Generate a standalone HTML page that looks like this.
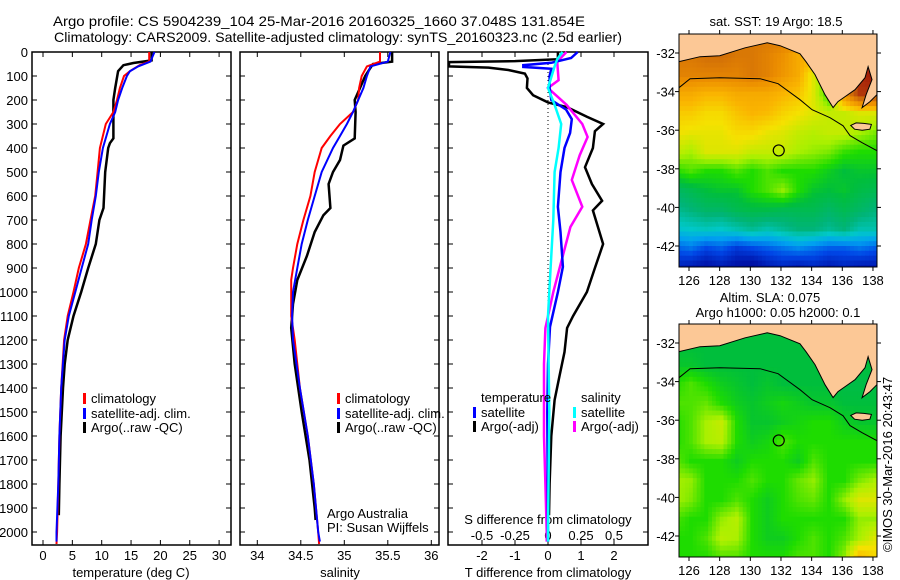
<!DOCTYPE html>
<html><head><meta charset="utf-8"><style>
html,body{margin:0;padding:0;background:#fff;}
svg{display:block;font-family:"Liberation Sans",sans-serif;}
text{font-size:13px;fill:#000;}
</style></head><body>
<svg id="chart" width="900" height="580" viewBox="0 0 900 580" xmlns="http://www.w3.org/2000/svg">
<text x="53" y="26" style="font-size:14px" textLength="532" lengthAdjust="spacingAndGlyphs">Argo profile: CS 5904239_104 25-Mar-2016 20160325_1660 37.048S 131.854E</text>
<text x="54" y="42" style="font-size:14px" textLength="568" lengthAdjust="spacingAndGlyphs">Climatology: CARS2009. Satellite-adjusted climatology: synTS_20160323.nc (2.5d earlier)</text>
<g id="p1"></g>
<g id="p2"></g>
<g id="p3"></g>
<g id="m1"></g>
<g id="m2"></g>
<text x="0" y="0" transform="translate(892,552) rotate(-90)" style="font-size:13px">©IMOS 30-Mar-2016 20:43:47</text>
</svg>
<script>
// ---- profile data (depth m, value) ----
const depthTicks = [0,100,200,300,400,500,600,700,800,900,1000,1100,1200,1300,1400,1500,1600,1700,1800,1900,2000];
const tempTicks = [0,5,10,15,20,25,30];
const salTicks = [34,34.5,35,35.5,36];
const tdiffTicks = [-2,-1,0,1,2];
const sdiffTicks = [-0.5,-0.25,0,0.25,0.5];
const tempClimDepth = [0,40,54,80,100,150,200,250,300,400,500,600,700,800,900,1000,1100,1200,1400,1600,1800,2000,2050];
const tempClim = [18.1,18.1,16.5,14.8,13.8,13.1,12.6,12.0,10.7,9.7,9.3,8.9,8.1,7.3,6.1,5.2,4.2,3.6,3.1,2.8,2.6,2.4,2.3];
const tempSatDepth = [0,40,60,80,100,150,200,250,300,400,500,600,700,800,900,1000,1100,1200,1400,1600,1800,2000,2040];
const tempSat = [19.0,18.3,16.2,14.8,14.3,13.5,12.8,12.3,11.4,10.2,9.5,9.0,8.3,7.7,6.6,5.5,4.4,3.7,3.1,2.8,2.6,2.3,2.3];
const tempArgoDepth = [0,35,46,55,80,150,200,360,380,400,500,650,700,800,900,1000,1100,1200,1300,1400,1600,1800,1930];
const tempArgo = [18.5,18.5,15.4,13.7,12.8,12.3,12.0,12.0,11.4,11.1,10.6,10.3,9.6,9.0,7.7,6.5,5.2,4.2,3.7,3.4,3.0,2.8,2.7];
const salClimDepth = [0,40,60,100,150,200,250,300,350,400,500,600,700,800,900,950,1100,1200,1400,1600,1800,2000,2050];
const salClim = [35.41,35.41,35.26,35.2,35.17,35.16,35.1,34.95,34.84,34.74,34.66,34.61,34.53,34.46,34.41,34.39,34.39,34.43,34.49,34.58,34.65,34.7,34.71];
const salSatDepth = [0,40,60,100,150,200,250,300,350,400,500,600,700,800,900,1000,1100,1200,1400,1600,1800,2000,2040];
const salSat = [35.53,35.5,35.3,35.26,35.22,35.16,35.1,35.03,34.95,34.87,34.74,34.66,34.58,34.51,34.46,34.41,34.4,34.41,34.49,34.58,34.65,34.7,34.72];
const salArgoDepth = [0,40,50,100,150,200,250,360,390,450,500,550,650,680,750,850,950,1050,1150,1300,1500,1700,1900,1950];
const salArgo = [35.55,35.55,35.33,35.24,35.18,35.12,35.13,35.12,34.99,34.95,34.87,34.82,34.84,34.76,34.66,34.57,34.46,34.41,34.39,34.43,34.51,34.6,34.66,34.67];
const tdArgoDepth = [0,30,38,42,60,65,75,90,110,150,180,210,230,270,300,330,400,480,550,620,660,800,900,1000,1100,1150,1250,1350,1450,1600,1800,1930];
const tdArgo = [0.3,0.3,-1.0,-3.0,-3.0,-1.8,-1.2,-0.7,-0.62,-0.64,-0.45,0,0.58,1.18,1.67,1.42,1.36,1.12,1.33,1.64,1.36,1.67,1.42,1.18,0.76,0.58,0.5,0.35,0.2,0.1,0.05,0.03];
const tdSatDepth = [0,25,45,55,62,70,100,150,200,240,280,337,400,500,645,750,895,1000,1145,1300,1500,2000,2040];
const tdSat = [0.9,0.7,0.1,-0.75,-0.75,0.1,0.05,0.05,0.1,0.55,0.72,0.67,0.5,0.38,0.3,0.38,0.45,0.3,0.06,0.0,-0.02,0,0];
const sdArgoDepth = [0,40,117,150,220,300,354,430,533,645,729,854,1000,1150,1300,1600,1800,2000,2040];
const sdArgo = [0.14,0.07,0.08,0,0.14,0.26,0.3,0.24,0.18,0.26,0.17,0.11,0.04,-0.02,-0.03,-0.03,-0.02,-0.01,-0.01];
const sdSatDepth = [0,30,60,150,220,300,400,500,700,900,1100,1500,2000,2040];
const sdSat = [0.11,0.07,0.05,0,0.05,0.1,0.08,0.05,0.04,0.02,0,0.01,0,0];
// ---- map data (lat rows -31..-43, lon cols 125..138), colour index 0..1 ----
const mapLons = [125,126,127,128,129,130,131,132,133,134,135,136,137,138];
const mapLats = [-31,-32,-33,-34,-35,-36,-37,-38,-39,-40,-41,-42,-43];
const sstGrid = [
[0.8,0.8,0.8,0.8,0.8,0.8,0.8,0.8,0.8,0.8,0.8,0.8,0.9,0.9],
[0.8,0.8,0.82,0.82,0.8,0.8,0.78,0.75,0.7,0.7,0.7,0.7,0.9,0.9],
[0.78,0.78,0.78,0.78,0.78,0.8,0.78,0.74,0.7,0.6,0.5,0.6,0.92,0.95],
[0.7,0.7,0.68,0.68,0.7,0.7,0.7,0.68,0.66,0.6,0.5,0.75,0.9,0.9],
[0.65,0.65,0.63,0.63,0.66,0.68,0.67,0.64,0.62,0.6,0.58,0.58,0.6,0.6],
[0.62,0.61,0.61,0.61,0.63,0.63,0.61,0.6,0.58,0.57,0.58,0.58,0.56,0.54],
[0.58,0.56,0.6,0.6,0.6,0.58,0.58,0.58,0.56,0.55,0.54,0.51,0.5,0.5],
[0.5,0.52,0.5,0.5,0.52,0.5,0.52,0.5,0.5,0.5,0.48,0.46,0.47,0.47],
[0.42,0.44,0.46,0.47,0.47,0.5,0.52,0.55,0.5,0.47,0.46,0.47,0.45,0.44],
[0.38,0.4,0.42,0.42,0.44,0.45,0.45,0.44,0.44,0.44,0.42,0.44,0.42,0.4],
[0.33,0.34,0.35,0.34,0.36,0.38,0.36,0.38,0.4,0.4,0.38,0.4,0.36,0.36],
[0.22,0.24,0.2,0.22,0.18,0.2,0.22,0.24,0.26,0.24,0.22,0.22,0.24,0.22],
[0.14,0.12,0.1,0.12,0.1,0.08,0.12,0.14,0.12,0.14,0.12,0.14,0.12,0.12]];
const slaGrid = [
[0.46,0.46,0.46,0.46,0.46,0.46,0.46,0.46,0.46,0.46,0.46,0.46,0.46,0.46],
[0.46,0.46,0.46,0.46,0.46,0.46,0.46,0.46,0.46,0.46,0.46,0.46,0.46,0.46],
[0.47,0.47,0.46,0.46,0.46,0.46,0.46,0.46,0.46,0.46,0.46,0.46,0.46,0.46],
[0.5,0.52,0.5,0.48,0.47,0.46,0.47,0.46,0.46,0.46,0.46,0.45,0.45,0.45],
[0.52,0.52,0.53,0.5,0.48,0.47,0.48,0.49,0.48,0.47,0.47,0.46,0.46,0.46],
[0.5,0.52,0.56,0.58,0.5,0.47,0.47,0.48,0.49,0.5,0.5,0.48,0.47,0.47],
[0.5,0.52,0.56,0.57,0.5,0.48,0.49,0.52,0.5,0.5,0.5,0.5,0.5,0.5],
[0.53,0.5,0.5,0.5,0.48,0.5,0.5,0.5,0.48,0.52,0.5,0.5,0.5,0.5],
[0.56,0.55,0.5,0.5,0.5,0.52,0.5,0.5,0.53,0.55,0.5,0.5,0.54,0.56],
[0.56,0.54,0.5,0.5,0.52,0.5,0.48,0.5,0.52,0.53,0.5,0.55,0.6,0.6],
[0.52,0.5,0.5,0.55,0.57,0.5,0.48,0.5,0.5,0.5,0.5,0.5,0.55,0.55],
[0.5,0.5,0.52,0.57,0.56,0.5,0.48,0.48,0.5,0.52,0.5,0.52,0.56,0.6],
[0.5,0.5,0.5,0.52,0.52,0.5,0.5,0.5,0.52,0.52,0.5,0.55,0.68,0.64]];
const coastLon = [125.35,126.72,128.0,129.66,131.1,131.94,133.24,133.63,134.22,134.87,135.4,135.72,136.18,136.83,137.48,137.68,137.94,137.55,137.29,137.81,138.26,138.26,125.35];
const coastLat = [-32.45,-32.19,-32.14,-31.73,-31.47,-31.62,-32.04,-32.45,-33.12,-34.16,-34.83,-34.52,-34.26,-33.9,-33.28,-32.71,-33.38,-34.16,-34.83,-34.52,-34.16,-31.0,-31.0];
const islandLon = [136.55,136.9,137.4,137.9,137.8,137.3,136.8,136.55];
const islandLat = [-35.75,-35.62,-35.65,-35.7,-35.95,-36.0,-35.95,-35.75];
const contourLon = [125.35,126.07,128.0,130.63,131.81,133.24,134.03,135.2,136.05,136.5,137.29,138.26];
const contourLat = [-33.8,-33.33,-33.28,-33.33,-33.59,-34.42,-34.94,-35.35,-35.77,-36.28,-36.65,-37.06];
const argoLon = 131.854, argoLat = -37.048;
const mapLonTicks = [126,128,130,132,134,136,138];
const mapLatTicks = [-32,-34,-36,-38,-40,-42];

const NS='http://www.w3.org/2000/svg';
function el(tag,attrs,parent){const e=document.createElementNS(NS,tag);for(const k in attrs)e.setAttribute(k,attrs[k]);parent.appendChild(e);return e;}
const TOP=52, BOT=545, D0=52, DPX=0.24;
const yD = d => D0 + d*DPX;

function frame(g,x0,x1,name){
  const r=el('rect',{x:x0,y:TOP,width:x1-x0,height:BOT-TOP,fill:'none',stroke:'#000','stroke-width':1.5},g);
  
  
  depthTicks.forEach(d=>{
    el('line',{x1:x0,x2:x0+5,y1:yD(d),y2:yD(d),stroke:'#000'},g);
    el('line',{x1:x1-5,x2:x1,y1:yD(d),y2:yD(d),stroke:'#000'},g);
  });
}
function xticks(g,vals,sx,labels,ly,name){
  vals.forEach((v,i)=>{
    const x=sx(v);
    el('line',{x1:x,x2:x,y1:TOP,y2:TOP+5,stroke:'#000'},g);
    el('line',{x1:x,x2:x,y1:BOT-5,y2:BOT,stroke:'#000'},g);
    if(labels){const t=el('text',{x:x,y:ly,'text-anchor':'middle'},g);t.textContent=labels[i];
      
      }
  });
}
function line(g,xs,ds,sx,color,w,name){
  const pts=xs.map((v,i)=>sx(v).toFixed(1)+','+yD(ds[i]).toFixed(1)).join(' ');
  const p=el('polyline',{points:pts,fill:'none',stroke:color,'stroke-width':w,'stroke-linejoin':'miter'},g);
  
  
}
function txt(g,x,y,s,name,anchor){const t=el('text',{x:x,y:y,'text-anchor':anchor||'start'},g);t.textContent=s;
  
  return t;}
function legend(g,x,y,color,s,name){
  const r=el('rect',{x:x,y:y-10,width:3,height:11,fill:color},g);
  
  
  txt(g,x+8,y,s,name);
}

// Panel 1: temperature
const p1=document.getElementById('p1');
const sT = v => 43 + v*5.87;
frame(p1,32,231,'temperature-panel');
depthTicks.forEach(d=>{txt(p1,28,yD(d)+5,String(d),'depth-tick-label','end');});
xticks(p1,tempTicks,sT,tempTicks.map(String),560,'temperature');
txt(p1,131,577,'temperature (deg C)','temperature-axis-title','middle');
line(p1,tempArgo,tempArgoDepth,sT,'#000',2.5,'temperature-argo-line');
line(p1,tempClim,tempClimDepth,sT,'#f00',2,'temperature-climatology-line');
line(p1,tempSat,tempSatDepth,sT,'#00f',2,'temperature-satellite-line');
legend(p1,83,403,'#f00','climatology','legend-climatology');
legend(p1,83,418,'#00f','satellite-adj. clim.','legend-satellite');
legend(p1,83,432,'#000','Argo(..raw -QC)','legend-argo');

// Panel 2: salinity
const p2=document.getElementById('p2');
const sS = v => 257.3 + (v-34)*87;
frame(p2,240,439,'salinity-panel');
xticks(p2,salTicks,sS,salTicks.map(String),560,'salinity');
txt(p2,340,577,'salinity','salinity-axis-title','middle');
line(p2,salArgo,salArgoDepth,sS,'#000',2.5,'salinity-argo-line');
line(p2,salClim,salClimDepth,sS,'#f00',2,'salinity-climatology-line');
line(p2,salSat,salSatDepth,sS,'#00f',2,'salinity-satellite-line');
legend(p2,337,403,'#f00','climatology','legend-climatology');
legend(p2,337,418,'#00f','satellite-adj. clim.','legend-satellite');
legend(p2,337,432,'#000','Argo(..raw -QC)','legend-argo');
txt(p2,327,518,'Argo Australia','credit-argo-australia');
txt(p2,327,532,'PI: Susan Wijffels','credit-pi');

// Panel 3: differences
const p3=document.getElementById('p3');
const sTD = v => 548 + v*33;
const sSD = v => 548 + v*132;
frame(p3,448,648,'difference-panel');
el('line',{x1:548,x2:548,y1:TOP,y2:BOT,stroke:'#000','stroke-dasharray':'1,3'},p3);
xticks(p3,tdiffTicks,sTD,tdiffTicks.map(String),560,'t-difference');
sdiffTicks.forEach(v=>{txt(p3,sSD(v),540,String(v),'s-difference-tick-label','middle');});
txt(p3,548,524,'S difference from climatology','s-difference-axis-title','middle');
txt(p3,548,577,'T difference from climatology','t-difference-axis-title','middle');
line(p3,tdArgo,tdArgoDepth,sTD,'#000',2.5,'t-difference-argo-line');
line(p3,sdArgo,sdArgoDepth,sSD,'#f0f',2.5,'s-difference-argo-line');
line(p3,tdSat,tdSatDepth,sTD,'#00f',2.5,'t-difference-satellite-line');
line(p3,sdSat,sdSatDepth,sSD,'#0ff',2.5,'s-difference-satellite-line');
txt(p3,481,402,'temperature','legend-temperature-heading');
legend(p3,473,417,'#00f','satellite','legend-t-satellite');
legend(p3,473,431,'#000','Argo(-adj)','legend-t-argo');
txt(p3,581,402,'salinity','legend-salinity-heading');
legend(p3,573,417,'#0ff','satellite','legend-s-satellite');
legend(p3,573,431,'#f0f','Argo(-adj)','legend-s-argo');

// Maps
const cstops=[[0,[0,0,120]],[0.12,[0,20,170]],[0.2,[0,70,230]],[0.28,[0,160,240]],[0.34,[0,200,200]],[0.4,[0,180,120]],[0.46,[0,190,60]],[0.5,[30,220,0]],[0.56,[170,240,0]],[0.62,[245,225,0]],[0.68,[250,180,0]],[0.76,[235,140,0]],[0.84,[200,100,10]],[0.92,[170,40,10]],[1,[130,0,0]]];
function cmap(v){
  for(let i=1;i<cstops.length;i++){if(v<=cstops[i][0]){const a=cstops[i-1],b=cstops[i];const t=(v-a[0])/(b[0]-a[0]);
    return 'rgb('+a[1].map((c,k)=>Math.round(c+(b[1][k]-c)*t)).join(',')+')';}}
  return 'rgb(130,0,0)';
}
function drawMap(id,top,grid,name){
  const g=document.getElementById(id);
  const L=679,R=877,B=top+233;
  const px = lon => 689 + (lon-126)*15.33;
  const py = lat => top + 19 + (-32-lat)*19.3 ;
  const clip=el('clipPath',{id:'c'+id},g);el('rect',{x:L,y:top,width:R-L,height:B-top},clip);
  const cg=el('g',{'clip-path':'url(#c'+id+')'},g);
  const step=0.25;
  for(let lat=-31; lat>-43.5; lat-=step){
    for(let lon=125.25; lon<138.5; lon+=step){
      const fi=Math.min(Math.max(-31-lat,0),12), fj=Math.min(Math.max(lon-125,0),13);
      const i0=Math.floor(fi),j0=Math.floor(fj),i1=Math.min(i0+1,12),j1=Math.min(j0+1,13),ti=fi-i0,tj=fj-j0;
      const v=(grid[i0][j0]*(1-tj)+grid[i0][j1]*tj)*(1-ti)+(grid[i1][j0]*(1-tj)+grid[i1][j1]*tj)*ti;
      el('rect',{x:px(lon).toFixed(1),y:py(lat).toFixed(1),width:(step*15.33+0.6).toFixed(1),height:(step*19.3+0.6).toFixed(1),fill:cmap(v)},cg);
    }
  }
  const land=el('polygon',{points:coastLon.map((v,i)=>px(v).toFixed(1)+','+py(coastLat[i]).toFixed(1)).join(' '),fill:'#fcc896',stroke:'#000','stroke-width':1},cg);
  
  
  el('polygon',{points:islandLon.map((v,i)=>px(v).toFixed(1)+','+py(islandLat[i]).toFixed(1)).join(' '),fill:'#fcc896',stroke:'#000','stroke-width':1},cg);
  const c=el('polyline',{points:contourLon.map((v,i)=>px(v).toFixed(1)+','+py(contourLat[i]).toFixed(1)).join(' '),fill:'none',stroke:'#000','stroke-width':1},cg);
  
  
  const a=el('circle',{cx:px(argoLon),cy:py(argoLat),r:5.5,fill:'none',stroke:'#000','stroke-width':1.2},g);
  
  
  el('rect',{x:L,y:top,width:R-L,height:B-top,fill:'none',stroke:'#000','stroke-width':1},g);
  mapLonTicks.forEach(v=>{const x=px(v);el('line',{x1:x,x2:x,y1:top-4,y2:top,stroke:'#000'},g);el('line',{x1:x,x2:x,y1:B,y2:B+4,stroke:'#000'},g);
    txt(g,x,B+18,String(v),name+'-lon-label','middle');});
  mapLatTicks.forEach(v=>{const y=py(v);el('line',{x1:L-4,x2:L,y1:y,y2:y,stroke:'#000'},g);el('line',{x1:R,x2:R+4,y1:y,y2:y,stroke:'#000'},g);
    txt(g,L-4,y+5,String(v),name+'-lat-label','end');});
}
drawMap('m1',34,sstGrid,'sst-map');
drawMap('m2',324,slaGrid,'sla-map');
const m1=document.getElementById('m1'), m2=document.getElementById('m2');
txt(m1,776,26,'sat. SST: 19 Argo: 18.5','sst-map-title','middle');
txt(m2,770,302,'Altim. SLA: 0.075','sla-map-title','middle');
txt(m2,778,317,'Argo h1000: 0.05 h2000: 0.1','sla-map-subtitle','middle');
</script>
</body></html>
